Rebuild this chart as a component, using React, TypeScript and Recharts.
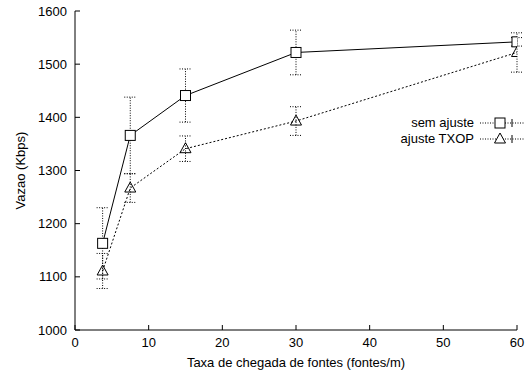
import React from 'react';
import { LineChart, Line, XAxis, YAxis, ErrorBar, Legend } from 'recharts';

const taxa = [3.75, 7.5, 15, 30, 60];
const semAjuste = [1163, 1366, 1441, 1522, 1542];
const semAjusteErr = [67, 72, 50, 42, 8];
const ajusteTxop = [1111, 1267, 1341, 1393, 1522];
const ajusteTxopErr = [33, 27, 24, 27, 37];
const xTicks = [0, 10, 20, 30, 40, 50, 60];
const yTicks = [1000, 1100, 1200, 1300, 1400, 1500, 1600];
const seriesNames = ['sem ajuste', 'ajuste TXOP'];
const xTitle = 'Taxa de chegada de fontes (fontes/m)';
const yTitle = 'Vazao (Kbps)';

const data = taxa.map((x, i) => ({
  x,
  sem: semAjuste[i],
  semErr: semAjusteErr[i],
  txop: ajusteTxop[i],
  txopErr: ajusteTxopErr[i],
}));

const FONT = '"Liberation Sans", Arial, Helvetica, sans-serif';
const tickStyle = { fontSize: 13, fill: '#000', fontFamily: FONT };

const SquareDot = (props: any) => {
  const { cx, cy, index } = props;
  if (cx == null || cy == null) return <g key={`s-${index}`} />;
  return <rect key={`s-${index}`} x={cx - 5} y={cy - 5} width={10} height={10} fill="#fff" stroke="#000" strokeWidth={1} />;
};

const TriangleDot = (props: any) => {
  const { cx, cy, index } = props;
  if (cx == null || cy == null) return <g key={`t-${index}`} />;
  return (
    <path
      key={`t-${index}`}
      d={`M${cx},${cy - 6} L${cx + 5.5},${cy + 4} L${cx - 5.5},${cy + 4} Z`}
      fill="none"
      stroke="#000"
      strokeWidth={1}
    />
  );
};

const LegendContent = (props: any) => {
  const payload = [...(props.payload || [])].sort(
    (a: any, b: any) => seriesNames.indexOf(a.value) - seriesNames.indexOf(b.value)
  );
  return (
    <div style={{ fontFamily: FONT, fontSize: 13, color: '#000' }}>
      {payload.map((entry: any, i: number) => (
        <div key={i} style={{ display: 'flex', alignItems: 'center', height: 16 }}>
          <span style={{ width: 94, textAlign: 'right', lineHeight: '16px' }}>{entry.value}</span>
          <svg width={46} height={14} style={{ marginLeft: 6 }}>
            <line x1={0} y1={7} x2={44} y2={7} stroke="#000" strokeDasharray="1 1.5" />
            <line x1={32} y1={3} x2={32} y2={11} stroke="#000" />
            {seriesNames.indexOf(entry.value) === 0 ? (
              <rect x={15} y={2} width={10} height={10} fill="#fff" stroke="#000" />
            ) : (
              <path d="M20,1 L25.5,11 L14.5,11 Z" fill="#fff" stroke="#000" />
            )}
          </svg>
        </div>
      ))}
    </div>
  );
};

export default function App() {
  return (
    <div style={{ position: 'absolute', left: 0, top: 0, width: 527, height: 376, background: '#fff' }}>
      <LineChart
        width={527}
        height={376}
        data={data}
        margin={{ top: 11, right: 10, bottom: 0, left: 0 }}
        style={{ fontFamily: FONT, overflow: 'visible' }}
      >
        <XAxis
          dataKey="x"
          type="number"
          domain={[0, 60]}
          ticks={xTicks}
          interval={0}
          height={46}
          tickSize={-5}
          tickMargin={13}
          tick={tickStyle}
          stroke="#000"
          allowDataOverflow
          label={{ value: xTitle, position: 'insideBottom', offset: 9, fontSize: 13, fill: '#000', fontFamily: FONT }}
        />
        <XAxis
          xAxisId="top"
          orientation="top"
          type="number"
          domain={[0, 60]}
          ticks={xTicks}
          interval={0}
          height={0}
          tickSize={-5}
          tickFormatter={() => ''}
          stroke="#000"
          allowDataOverflow
        />
        <YAxis
          type="number"
          domain={[1000, 1600]}
          ticks={yTicks}
          interval={0}
          width={75}
          tickSize={-5}
          tickMargin={13}
          tick={tickStyle}
          stroke="#000"
          allowDataOverflow
          label={{
            content: (p: any) => {
              const vb = p.viewBox || {};
              const cx = vb.x + 20;
              const cy = vb.y + vb.height / 2;
              return (
                <text
                  x={cx}
                  y={cy}
                  transform={`rotate(-90 ${cx} ${cy})`}
                  textAnchor="middle"
                  dominantBaseline="central"
                  fontSize={13}
                  fontFamily={FONT}
                  fill="#000"
                >
                  {yTitle}
                </text>
              );
            },
          }}
        />
        <YAxis
          yAxisId="right"
          orientation="right"
          type="number"
          domain={[1000, 1600]}
          ticks={yTicks}
          interval={0}
          width={0}
          tickSize={-5}
          tickFormatter={() => ''}
          stroke="#000"
          allowDataOverflow
        />
        <Legend
          layout="vertical"
          align="center"
          verticalAlign="middle"
          content={<LegendContent />}
          wrapperStyle={{ position: 'absolute', left: 380, top: 115, width: 147 }}
        />
        <Line
          name={seriesNames[0]}
          dataKey="sem"
          stroke="#000"
          strokeWidth={1}
          dot={<SquareDot />}
          isAnimationActive={false}
        >
          <ErrorBar dataKey="semErr" width={6} stroke="#000" strokeWidth={1} strokeDasharray="1 1.5" direction="y" />
        </Line>
        <Line
          name={seriesNames[1]}
          dataKey="txop"
          stroke="#000"
          strokeWidth={1}
          strokeDasharray="2 2"
          dot={<TriangleDot />}
          isAnimationActive={false}
        >
          <ErrorBar dataKey="txopErr" width={6} stroke="#000" strokeWidth={1} strokeDasharray="1 1.5" direction="y" />
        </Line>
      </LineChart>
    </div>
  );
}
